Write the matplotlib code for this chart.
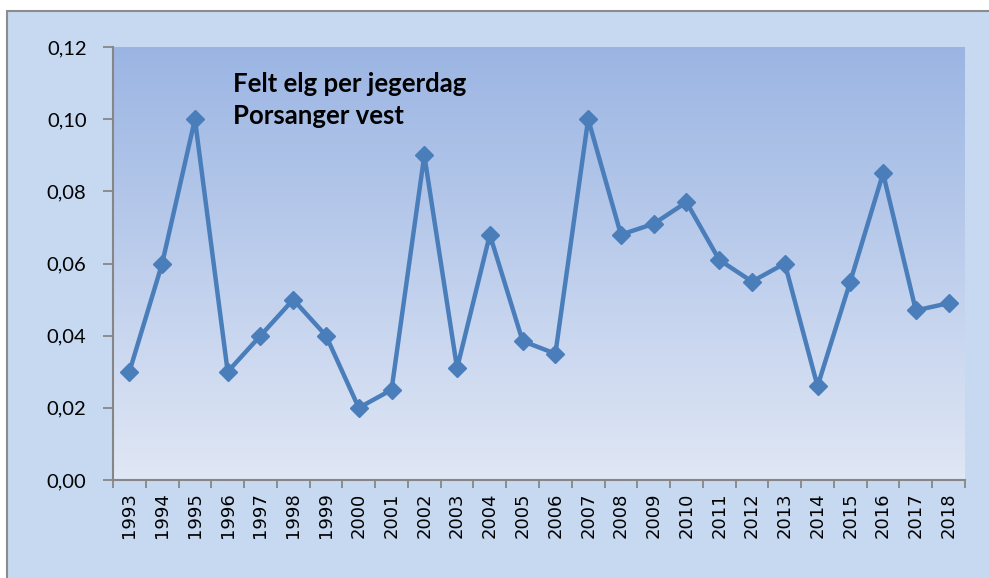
import numpy as np
import matplotlib.pyplot as plt
from matplotlib.patches import Rectangle
from matplotlib.ticker import FuncFormatter, MultipleLocator
from matplotlib.colors import LinearSegmentedColormap

# data
years = [str(y) for y in range(1993, 2019)]
felt_per_dag = [0.030, 0.060, 0.100, 0.030, 0.040, 0.050, 0.040, 0.020, 0.025, 0.090,
                0.031, 0.068, 0.0385, 0.035, 0.100, 0.068, 0.071, 0.077, 0.061, 0.055,
                0.060, 0.026, 0.055, 0.085, 0.047, 0.049]
title_lines = ["Felt elg per jegerdag", "Porsanger vest"]

W, H = 989, 578
fig = plt.figure(figsize=(W / 100, H / 100), dpi=100)
fig.patch.set_facecolor('white')

# outer chart frame
fig.patches.append(Rectangle((7 / W, -0.01), 1.02, (H - 11) / H + 0.01, transform=fig.transFigure,
                             facecolor='#c6d9f1', edgecolor='#8c8c8c', linewidth=1.5, zorder=-10))

ax = fig.add_axes([113 / W, (H - 480) / H, (965 - 113) / W, (480 - 47) / H])
ax.set_facecolor('none')

# gradient plot area
cmap = LinearSegmentedColormap.from_list('grad', ['#e0e7f5', '#9bb5e3'])
grad = np.linspace(0, 1, 256).reshape(-1, 1)
ax.imshow(grad, cmap=cmap, origin='lower', extent=[0, 1, 0, 1], transform=ax.transAxes,
          aspect='auto', zorder=0)

x = np.arange(len(years))
ax.plot(x, felt_per_dag, color='#4a7ebb', linewidth=3.2, marker='D', markersize=9,
        markeredgecolor='#4a7ebb', zorder=3)

ax.set_xlim(-0.5, len(years) - 0.5)
ax.set_ylim(0, 0.12)

ax.yaxis.set_major_locator(MultipleLocator(0.02))
ax.yaxis.set_major_formatter(FuncFormatter(lambda v, p: f"{v:.2f}".replace('.', ',')))
ax.set_xticks(x)
ax.set_xticklabels(years, rotation=90)
ax.set_xticks(np.arange(-0.5, len(years)), minor=True)
ax.tick_params(axis='x', which='major', length=0, pad=9, labelsize=13,
               labelfontfamily='DejaVu Sans')
ax.tick_params(axis='x', which='minor', length=6, width=1.3, color='#868686', direction='out')
ax.tick_params(axis='y', length=7, width=1.3, color='#868686', direction='out', pad=12,
               labelsize=14.5, labelfontfamily='Lato')

for s in ['top', 'right']:
    ax.spines[s].set_visible(False)
for s in ['left', 'bottom']:
    ax.spines[s].set_color('#868686')
    ax.spines[s].set_linewidth(1.5)

ax.text(233 / W, (H - 92) / H, title_lines[0], transform=fig.transFigure, fontsize=18.5,
        fontweight='bold', family='Lato', color='black')
ax.text(233 / W, (H - 124) / H, title_lines[1], transform=fig.transFigure, fontsize=18.5,
        fontweight='bold', family='Lato', color='black')

fig.savefig('out.png', dpi=100)
